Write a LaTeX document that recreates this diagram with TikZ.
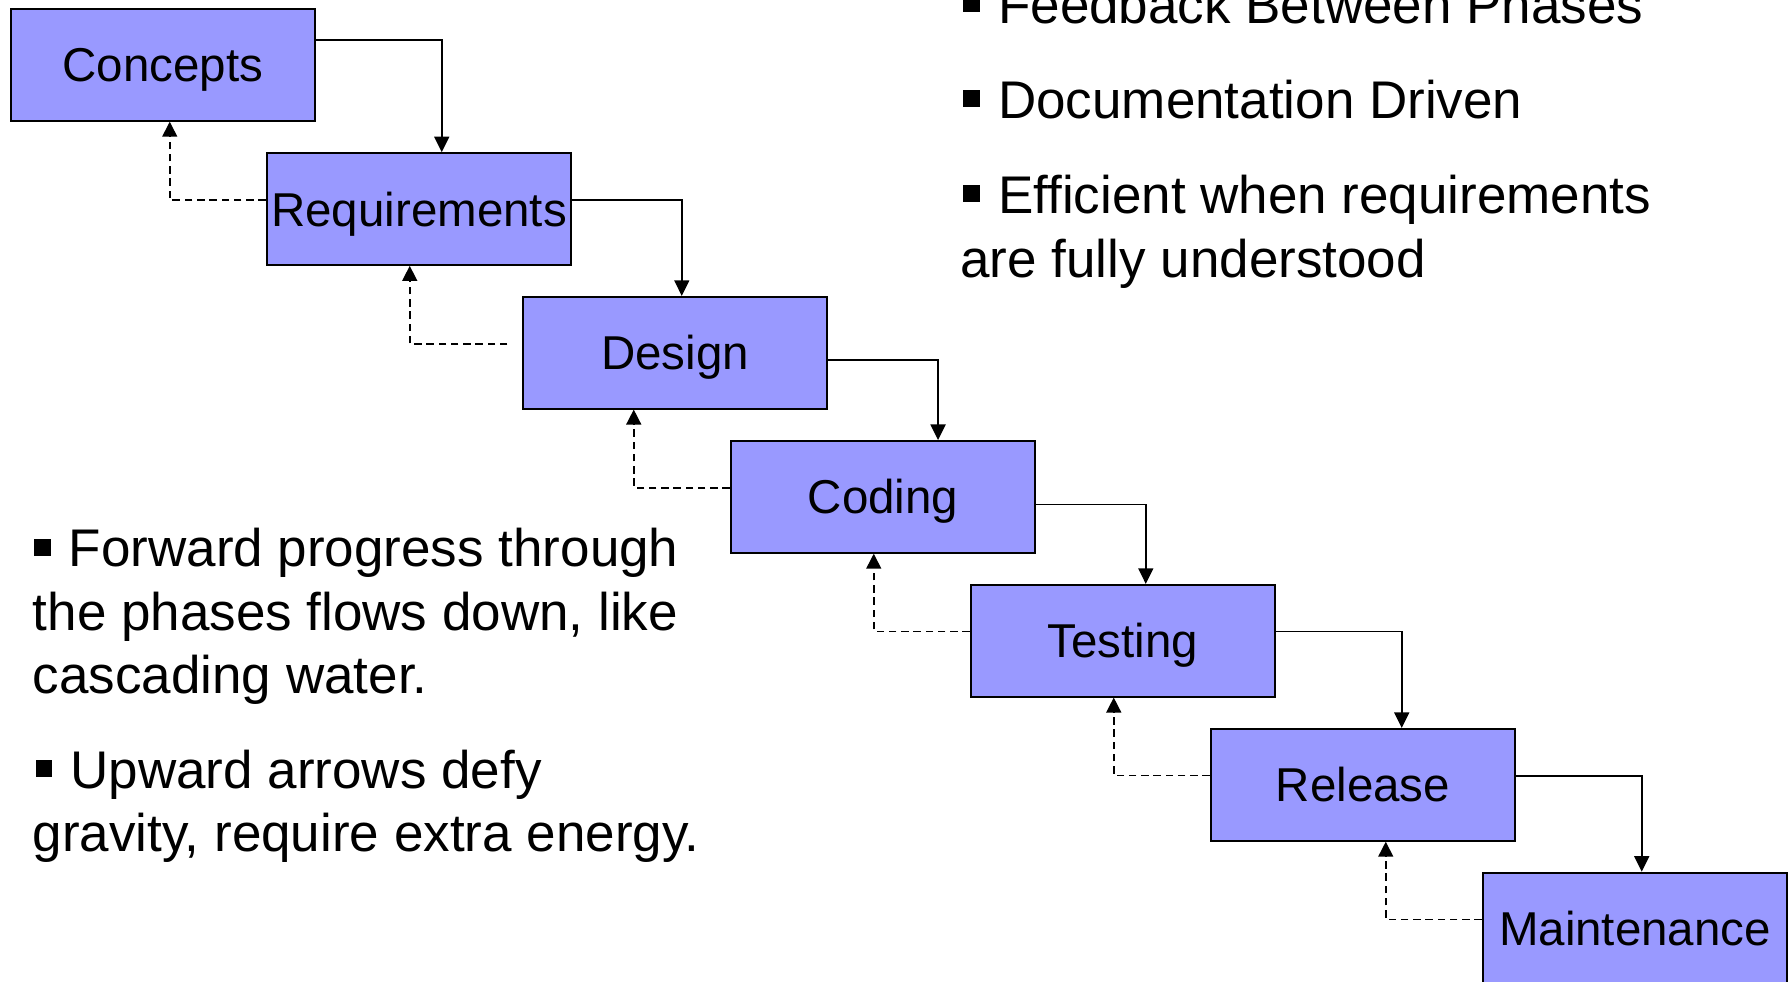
\documentclass[tikz,border=0pt]{standalone}
\usepackage{fontspec}
\setmainfont{Liberation Sans}
\usetikzlibrary{arrows.meta,calc}

\definecolor{phasefill}{HTML}{9999FF}

% small square bullet followed by its gap
\newcommand\sqbul{\makebox[0.66em][l]{\raisebox{0.21em}{\rule{0.32em}{0.32em}}}}

\tikzset{
  phase/.style={draw=black, line width=0.8pt, fill=phasefill,
    minimum width=121.8pt, minimum height=44.7pt, inner sep=0pt,
    text height=13.6pt, text depth=0pt,
    font=\fontsize{19pt}{23pt}\selectfont},
  fwd/.style={line width=0.6pt, -{Triangle[length=6.2pt,width=6pt]}},
  back/.style={line width=0.6pt, dash pattern=on 3pt off 1.9pt,
    -{Triangle[length=6pt,width=6pt]}},
  note/.style={anchor=base west, inner sep=0pt,
    font=\fontsize{21.2pt}{25.4pt}\selectfont},
}

\begin{document}
\begin{tikzpicture}[x=0.4pt,y=-0.4pt]
\useasboundingbox (0,0) rectangle (1791,981);
\clip (0,0) rectangle (1791,981);

% phases of the cascade
\node[phase] (con) at (163,64.85)  {Concepts};
\node[phase] (req) at (419,209)    {Requirements};
\node[phase] (des) at (675,352.7)  {Design};
\node[phase] (cod) at (883,496.85) {Coding};
\node[phase] (tes) at (1123,640.7) {Testing};
\node[phase] (rel) at (1363,784.85){Release};
\node[phase] (mai) at (1635,928.55){Maintenance};

% forward flow
\draw[fwd] ($(con.north east)+(0,32)$)   -| ($(req.north west)+(176,0)$);
\draw[fwd] ($(req.north east)+(0,47.7)$) -| ($(des.north west)+(160,0)$);
\draw[fwd] ($(des.north east)+(0,64)$)   -| ($(cod.north west)+(208.3,0)$);
\draw[fwd] ($(cod.north east)+(0,64.3)$) -| ($(tes.north west)+(176,0)$);
\draw[fwd] ($(tes.north east)+(0,47.6)$) -| ($(rel.north west)+(192,0)$);
\draw[fwd] ($(rel.north east)+(0,48)$)   -| ($(mai.north west)+(160,0)$);

% feedback flow
\draw[back] ($(req.north west)+(0,48)$)     -| ($(con.south west)+(160,0)$);
\draw[back] ($(des.north west)+(-14.4,48)$) -| ($(req.south west)+(144,0)$);
\draw[back] ($(cod.north west)+(0,48)$)     -| ($(des.south west)+(112,0)$);
\draw[back] ($(tes.north west)+(0,47.6)$)   -| ($(cod.south west)+(144,0)$);
\draw[back] ($(rel.north west)+(0,47.7)$)   -| ($(tes.south west)+(144,0)$);
\draw[back] ($(mai.north west)+(0,48)$)     -| ($(rel.south west)+(176,0)$);

% notes, upper right
\node[note] (n1) at (962.7,23.3)  {\sqbul Feedback Between Phases};
\node[note] (n2) at (962.7,118.3) {\sqbul Documentation Driven};
\node[note] (n3) at (962.7,213.3) {\sqbul Efficient when requirements};
\node[note] (n4) at (960,277.3)   {are fully understood};

% notes, lower left
\node[note] (n5) at (33.3,566.7)  {\sqbul Forward progress through};
\node[note] (n6) at (32.3,630)    {the phases flows down, like};
\node[note] (n7) at (32.3,693.3)  {cascading water.};
\node[note] (n8) at (35,788.3)    {\sqbul Upward arrows defy};
\node[note] (n9) at (32.3,851.7)  {gravity, require extra energy.};
\end{tikzpicture}
\end{document}
